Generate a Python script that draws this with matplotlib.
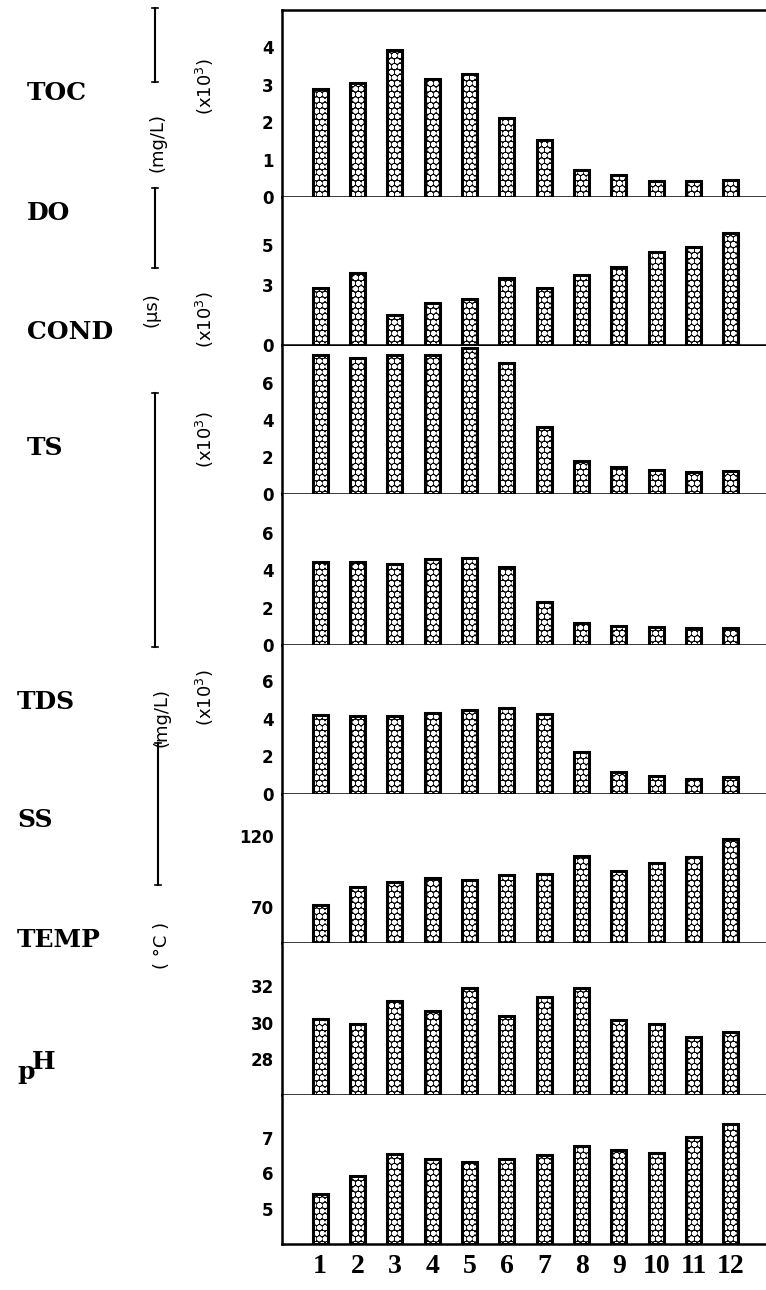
import matplotlib.pyplot as plt
from matplotlib.lines import Line2D

plt.rcParams['hatch.linewidth'] = 1.8

W, H = 766, 1290

stations = list(range(1, 13))
station_labels = ['1', '2', '3', '4', '5', '6', '7', '8', '9', '10', '11', '12']

# valores
toc = [2.9, 3.04, 3.92, 3.15, 3.28, 2.1, 1.52, 0.72, 0.59, 0.43, 0.43, 0.45]
do = [2.85, 3.6, 1.5, 2.1, 2.3, 3.35, 2.85, 3.5, 3.9, 4.65, 4.9, 5.6]
cond = [7.51, 7.35, 7.51, 7.51, 7.9, 7.08, 3.62, 1.78, 1.46, 1.3, 1.19, 1.24]
ts = [4.44, 4.44, 4.33, 4.6, 4.65, 4.17, 2.3, 1.18, 1.02, 0.96, 0.9, 0.9]
tds = [4.2, 4.15, 4.15, 4.3, 4.47, 4.57, 4.26, 2.23, 1.17, 0.96, 0.8, 0.9]
ss = [71.4, 83.9, 87.4, 90.1, 88.8, 92.2, 92.9, 105.4, 95.0, 100.5, 104.7, 117.9]
temp = [30.2, 29.95, 31.2, 30.65, 31.9, 30.35, 31.4, 31.9, 30.15, 29.9, 29.2, 29.5]
ph = [5.42, 5.93, 6.55, 6.4, 6.32, 6.4, 6.52, 6.75, 6.65, 6.57, 7.03, 7.39]

# (valores, limites y, ticks, topo px, base px)
paineis = [
    (toc, (0, 5.0), [0, 1, 2, 3, 4], 10, 197),
    (do, (0, 7.4), [0, 3, 5], 197, 345),
    (cond, (0, 8.0), [0, 2, 4, 6], 346, 494),
    (ts, (0, 8.07), [0, 2, 4, 6], 494, 645),
    (tds, (0, 7.9), [0, 2, 4, 6], 645, 794),
    (ss, (45, 149), [70, 120], 794, 943),
    (temp, (26, 34.4), [28, 30, 32], 943, 1095),
    (ph, (4, 8.2), [5, 6, 7], 1095, 1244),
]

fig = plt.figure(figsize=(W / 100, H / 100), dpi=100)

x0 = 282 / W
for i, (vals, ylim, ticks, top, bot) in enumerate(paineis):
    ax = fig.add_axes([x0, 1 - bot / H, 1 - x0, (bot - top) / H])
    base = ylim[0]
    alturas = [v - base for v in vals]
    # barra preta com circulos brancos por cima
    ax.bar(stations, alturas, bottom=base, width=0.4, color='black')
    ax.bar(stations, alturas, bottom=base, width=0.4, facecolor='none',
           edgecolor='white', linewidth=0, hatch='ooo')
    ax.bar(stations, alturas, bottom=base, width=0.4, facecolor='none',
           edgecolor='black', linewidth=2.2)
    ax.set_xlim(-0.02, 12.94)
    ax.set_ylim(*ylim)
    ax.set_yticks(ticks)
    ax.set_yticklabels([str(t) for t in ticks], fontsize=12, fontweight='bold')
    ax.tick_params(axis='y', length=0, pad=6)
    ax.spines['right'].set_visible(False)
    ax.spines['top'].set_visible(i == 0)
    for s in ['left', 'bottom', 'top']:
        ax.spines[s].set_linewidth(1.8)
    if i == len(paineis) - 1:
        ax.set_xticks(stations)
        ax.set_xticklabels(station_labels, fontsize=20, fontweight='bold',
                           family='Liberation Serif')
        ax.tick_params(axis='x', length=0, pad=7)
    else:
        ax.set_xticks([])

def px(x, y):
    return x / W, 1 - y / H

# nomes dos parametros
nomes = [('TOC', 27, 93), ('DO', 27, 213), ('COND', 27, 332), ('TS', 27, 448),
         ('TDS', 17, 702), ('SS', 17, 820), ('TEMP', 17, 940)]
for nome, x, y in nomes:
    fig.text(*px(x, y), nome, fontsize=18, fontweight='bold', family='DejaVu Serif',
             ha='left', va='center')
fig.text(*px(17, 1072), 'p', fontsize=18, fontweight='bold', family='DejaVu Serif',
         ha='left', va='center')
fig.text(*px(32, 1062), 'H', fontsize=18, fontweight='bold', family='DejaVu Serif',
         ha='left', va='center')

# linhas das unidades
linhas = [(155, 8, 82), (155, 188, 268), (155, 393, 647), (158, 743, 885)]
for x, y1, y2 in linhas:
    fig.add_artist(Line2D([x / W, x / W], [1 - y1 / H, 1 - y2 / H], color='black', lw=1.5))
    for yy in (y1, y2):
        fig.add_artist(Line2D([(x - 3) / W, (x + 3) / W], [1 - yy / H, 1 - yy / H],
                              color='black', lw=1.2))

unidades = [('(mg/L)', 157, 143), ('(μs)', 152, 310), ('(mg/L)', 162, 717), ('( °C )', 162, 945)]
for txt, x, y in unidades:
    fig.text(*px(x, y), txt, fontsize=13, rotation=90, ha='center', va='center')

escalas = [(205, 87), (205, 320), (205, 440), (205, 698)]
for x, y in escalas:
    fig.text(*px(x, y), '(x10$^3$)', fontsize=13, rotation=90, ha='center', va='center')

fig.savefig('out.png', dpi=100)
